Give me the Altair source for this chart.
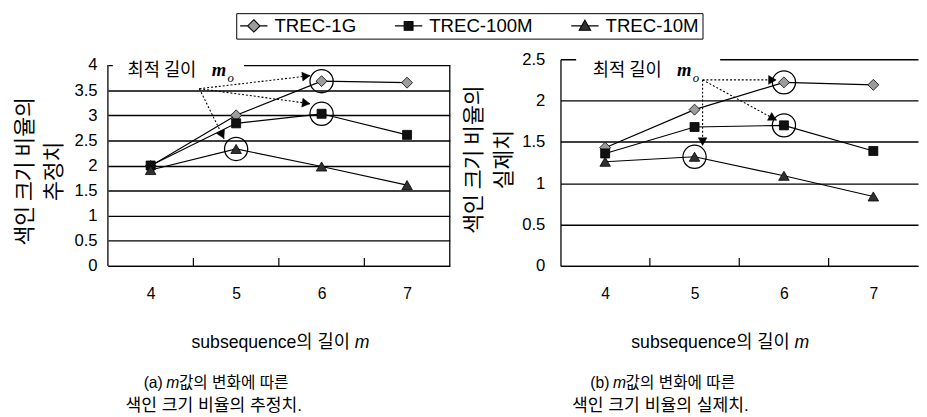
import math
import altair as alt
import pandas as pd

# ---------------- data ----------------
m_values = [4, 5, 6, 7]
series_names = ["TREC-1G", "TREC-100M", "TREC-10M"]

est_1g = [1.99, 3.00, 3.68, 3.65]
est_100m = [2.00, 2.84, 3.03, 2.61]
est_10m = [1.91, 2.33, 1.98, 1.61]

act_1g = [1.43, 1.89, 2.22, 2.19]
act_100m = [1.36, 1.68, 1.70, 1.39]
act_10m = [1.26, 1.32, 1.09, 0.84]

est_optimal_m = [6, 6, 5]
act_optimal_m = [6, 6, 5]

est_y_ticks = [0, 0.5, 1, 1.5, 2, 2.5, 3, 3.5, 4]
act_y_ticks = [0, 0.5, 1, 1.5, 2, 2.5]
x_band_edges = [4.5, 5.5, 6.5]
x_frame = [3.5, 7.5]

est_arrow_from = [4.57, 3.53]
est_arrow_to_m = [5.87, 5.87, 4.86]
est_arrow_to_v = [3.79, 3.23, 2.53]
act_arrow_from = [5.09, 2.25]
act_arrow_to_m = [5.92, 5.09, 5.92]
act_arrow_to_v = [2.25, 1.45, 1.76]

est_ylabel = ["색인 크기 비율의", "추정치"]
act_ylabel = ["색인 크기 비율의", "실제치"]
x_title = "subsequence의 길이"
x_title_var = "m"
note_text = "최적 길이"
est_caption = ["(a)", "m", "값의 변화에 따른", "색인 크기 비율의 추정치."]
act_caption = ["(b)", "m", "값의 변화에 따른", "색인 크기 비율의 실제치."]

# ---------------- styles ----------------
SANS = "Liberation Sans, Noto Sans CJK KR"
KOR = "Noto Sans CJK KR"
SERIF = "Liberation Serif"

shape_of = {"TREC-1G": "diamond", "TREC-100M": "square", "TREC-10M": "triangle-up"}
fill_of = {"TREC-1G": "#9c9c9c", "TREC-100M": "#101010", "TREC-10M": "#303030"}
size_of = {"TREC-1G": 125, "TREC-100M": 85, "TREC-10M": 115}
legend_paths = [
    "M-1,0H-0.15M1.25,0H2.1M0.55,-0.7L1.25,0L0.55,0.7L-0.15,0Z",
    "M-1,0H0.05M1.05,0H2.1M0.05,-0.5H1.05V0.5H0.05Z",
    "M-1,0H0.18M0.92,0H2.1M0.55,-0.65L1.2,0.5H-0.1Z",
]

one = pd.DataFrame({"k": [0]})


def make_panel(vals, opt_m, yticks, arrow_from, arrow_to_m, arrow_to_v, ylabel,
               caption, width, height, cfg, with_legend=False):
    ytop = yticks[-1]
    # the plot area may start a few pixels above the top tick (left panel)
    ymax = ytop * height / (height - cfg["top_gap"])
    kx = width / 4.0
    ky = height / ymax

    rows = []
    for s, arr in zip(series_names, vals):
        for m, v in zip(m_values, arr):
            rows.append({"m": m, "series": s, "value": v})
    df = pd.DataFrame(rows)

    opt_rows = []
    for s, arr, om in zip(series_names, vals, opt_m):
        opt_rows.append({"m": om, "value": arr[m_values.index(om)]})
    df_opt = pd.DataFrame(opt_rows)

    arr_rows = []
    for ex, ey in zip(arrow_to_m, arrow_to_v):
        dx = (ex - arrow_from[0]) * kx
        dy = -(ey - arrow_from[1]) * ky
        L = math.hypot(dx, dy)
        ux, uy = dx / L, dy / L
        ang = math.degrees(math.atan2(dy, dx)) % 360
        arr_rows.append({
            "m": arrow_from[0], "value": arrow_from[1], "m2": ex, "value2": ey,
            "hm": ex - 4.5 * ux / kx, "hv": ey + 4.5 * uy / ky, "ang": ang,
        })
    df_arr = pd.DataFrame(arr_rows)

    xs = alt.Scale(domain=[3.5, 7.5], nice=False, zero=False)
    ys = alt.Scale(domain=[0, ymax], nice=False, zero=False)
    x_axis = alt.Axis(values=m_values, ticks=False, tickSize=0, grid=False,
                      domain=True, domainColor="black", domainWidth=1.3,
                      labelFont=SANS, labelFontSize=16, labelColor="black",
                      labelPadding=cfg["xlabel_pad"], format="d", title=None)
    y_axis = alt.Axis(values=yticks, ticks=False, tickSize=0, grid=True,
                      gridColor="black", gridWidth=1.4, gridOpacity=1,
                      domain=cfg["y_domain"], domainColor="black", domainWidth=1.3,
                      labelFont=SANS, labelFontSize=17, labelColor="black",
                      labelPadding=cfg["ylabel_pad"], format="~g",
                      title=ylabel, titleFont=KOR, titleFontSize=22,
                      titleFontWeight="normal", titleColor="black",
                      titleLineHeight=cfg["title_lh"], titlePadding=cfg["title_pad"],
                      titleY=cfg["title_y"])
    X = alt.X("m:Q", scale=xs, axis=x_axis)
    Y = alt.Y("value:Q", scale=ys, axis=y_axis)

    layers = []
    bx = cfg["box"]
    layers.append(alt.Chart(one).mark_rect(fill="white", strokeWidth=0).encode(
        x=alt.value(bx[0]), x2=alt.value(bx[1]), y=alt.value(bx[2]), y2=alt.value(bx[3])))

    if cfg["frame"]:
        fr = pd.DataFrame({"m": x_frame, "value": [0, 0], "value2": [ytop, ytop]})
        layers.append(alt.Chart(fr).mark_rule(color="black", strokeWidth=1.3).encode(
            x=X, y=Y, y2="value2:Q"))

    base = alt.Chart(df)
    layers.append(base.mark_line(color="black", strokeWidth=1.2).encode(
        x=X, y=Y, detail="series:N"))

    layers.append(alt.Chart(pd.DataFrame({"m": x_band_edges})).mark_rule(
        color="black", strokeWidth=1.2).encode(
        x=X, y=alt.value(height), y2=alt.value(height - 8)))

    layers.append(alt.Chart(df_arr).mark_rule(
        color="black", strokeWidth=1.1, strokeDash=[2, 2]).encode(
        x=X, y=Y, x2="m2:Q", y2="value2:Q"))
    layers.append(alt.Chart(df_arr).mark_point(
        shape="triangle-right", filled=True, fill="black", stroke="black",
        strokeWidth=0.5, size=80, opacity=1).encode(
        x=alt.X("hm:Q", scale=xs, axis=x_axis),
        y=alt.Y("hv:Q", scale=ys, axis=y_axis),
        angle=alt.Angle("ang:Q", scale=None)))

    for s in series_names:
        layers.append(base.transform_filter(alt.datum.series == s).mark_point(
            shape=shape_of[s], filled=True, fill=fill_of[s], stroke="black",
            strokeWidth=0.8, size=size_of[s], opacity=1).encode(x=X, y=Y))

    layers.append(alt.Chart(df_opt).mark_point(
        shape="circle", filled=False, size=560, stroke="black", strokeWidth=1.3,
        opacity=1).encode(x=X, y=Y))

    if with_legend:
        leg = alt.Legend(orient="none", legendX=cfg["legend_x"], legendY=cfg["legend_y"],
                         direction="horizontal", title=None, labelFont=SANS,
                         labelFontSize=19, labelColor="black", symbolSize=324,
                         labelOffset=16, columnPadding=cfg["legend_colpad"], padding=3,
                         strokeColor="black", fillColor="white",
                         symbolStrokeColor="black", symbolStrokeWidth=1.1,
                         symbolOpacity=1)
        dom = alt.Scale(domain=series_names, range=legend_paths)
        layers.append(base.mark_point(filled=True, opacity=0, strokeWidth=1.1).encode(
            x=X, y=Y,
            shape=alt.Shape("series:N", sort=series_names, scale=dom, legend=leg),
            fill=alt.Fill("series:N", sort=series_names,
                          scale=alt.Scale(domain=series_names,
                                          range=[fill_of[s] for s in series_names]),
                          legend=leg),
            stroke=alt.Stroke("series:N", sort=series_names,
                              scale=alt.Scale(domain=series_names,
                                              range=["black"] * len(series_names)),
                              legend=leg)))

    # annotation "최적 길이 m_o"
    nx, ny = cfg["note"]
    layers.append(alt.Chart(one).mark_text(
        text=note_text, font=KOR, fontSize=18, align="left", baseline="middle",
        color="black").encode(x=alt.value(nx), y=alt.value(ny)))
    layers.append(alt.Chart(one).mark_text(
        text="m", font=SERIF, fontStyle="italic", fontWeight="bold", fontSize=19,
        align="left", baseline="middle", color="black").encode(
        x=alt.value(nx + 86), y=alt.value(ny - 1)))
    layers.append(alt.Chart(one).mark_text(
        text="o", font=SERIF, fontStyle="italic", fontSize=13,
        align="left", baseline="middle", color="black").encode(
        x=alt.value(nx + 102), y=alt.value(ny + 7)))

    # x title
    cx, ty = cfg["xtitle"]
    layers.append(alt.Chart(one).mark_text(
        text=x_title, font=SANS, fontSize=18, align="right", baseline="middle",
        color="black").encode(x=alt.value(cx + 73), y=alt.value(ty)))
    layers.append(alt.Chart(one).mark_text(
        text=x_title_var, font=SANS, fontStyle="italic", fontSize=18, align="left",
        baseline="middle", color="black").encode(x=alt.value(cx + 78), y=alt.value(ty)))

    # caption
    ccx, c1, c2 = cfg["caption"]
    start = ccx - 72
    layers.append(alt.Chart(one).mark_text(
        text=caption[0], font=SANS, fontSize=16, align="right", baseline="middle",
        color="black").encode(x=alt.value(start + 20), y=alt.value(c1)))
    layers.append(alt.Chart(one).mark_text(
        text=caption[1], font=SANS, fontStyle="italic", fontSize=16, align="left",
        baseline="middle", color="black").encode(x=alt.value(start + 23.5), y=alt.value(c1)))
    layers.append(alt.Chart(one).mark_text(
        text=caption[2], font=SANS, fontSize=16, align="left", baseline="middle",
        color="black").encode(x=alt.value(start + 36.5), y=alt.value(c1)))
    layers.append(alt.Chart(one).mark_text(
        text=caption[3], font=SANS, fontSize=17.5, align="center", baseline="middle",
        color="black").encode(x=alt.value(ccx), y=alt.value(c2)))

    view = alt.ViewBackground(stroke="transparent", fill="white")
    return alt.layer(*layers).properties(width=width, height=height, view=view)


left_cfg = {
    "top_gap": 6, "frame": True, "y_domain": False,
    "xlabel_pad": 20, "ylabel_pad": 11,
    "title_lh": 29, "title_pad": 9, "title_y": 114, "box": [5, 139, -3, 22],
    "note": [20, 12],
    "xtitle": [174, 290], "caption": [108, 331, 354],
    "legend_x": 131, "legend_y": -47, "legend_colpad": 36,
}
right_cfg = {
    "top_gap": 0, "frame": False, "y_domain": True,
    "xlabel_pad": 20, "ylabel_pad": 16,
    "title_lh": 31, "title_pad": 6, "title_y": 102, "box": [16, 163, -8, 24],
    "note": [33, 12],
    "xtitle": [161, 290], "caption": [102, 331, 354],
}

left = make_panel([est_1g, est_100m, est_10m], est_optimal_m, est_y_ticks,
                  est_arrow_from, est_arrow_to_m, est_arrow_to_v, est_ylabel,
                  est_caption, 349, 211, left_cfg, with_legend=True)
right = make_panel([act_1g, act_100m, act_10m], act_optimal_m, act_y_ticks,
                   act_arrow_from, act_arrow_to_m, act_arrow_to_v, act_ylabel,
                   act_caption, 365, 211, right_cfg)

chart = alt.hconcat(left, right, spacing=10).properties(
    padding={"left": 5, "top": 0, "right": 0, "bottom": 0},
    background="white",
)

chart.save("out.html", embed_options={"renderer": "svg", "actions": False})
